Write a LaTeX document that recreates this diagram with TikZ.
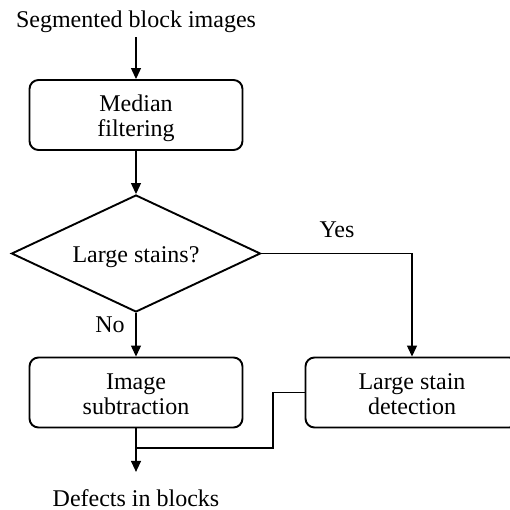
\documentclass[tikz,border=0pt]{standalone}
\usepackage{fontspec}
\setmainfont{Liberation Serif}
\usetikzlibrary{shapes.geometric,arrows.meta}
\newcommand{\boxtxt}[2][8pt]{\raisebox{0pt}[\dimexpr\height+#1\relax][\depth]{\begin{tabular}{@{}c@{}}#2\end{tabular}}}
\begin{document}
\begin{tikzpicture}[x=1pt,y=-1pt,
  every node/.style={font=\fontsize{24}{25}\selectfont},
  procbox/.style={draw,line width=1.9pt,rounded corners=9pt,minimum width=213pt,minimum height=70pt,align=center,inner sep=0pt},
  decision/.style={draw,line width=1.9pt,diamond,shape aspect=2.1,minimum width=249pt,minimum height=117pt,inner sep=0pt},
  plain/.style={inner sep=0pt},
  conn/.style={line width=1.2pt},
  arr/.style={conn,-{Triangle[length=11pt,width=10pt]}}]
\clip (0,0) rectangle (510,510);
\useasboundingbox (0,0) rectangle (510,510);
\node[plain,anchor=base] (in) at (136,28) {Segmented block images};
\node[procbox] (med) at (136,115) {\boxtxt{Median\\filtering}};
\node[decision] (dia) at (136,253.5) {\boxtxt[8pt]{Large stains?}};
\node[procbox] (sub) at (136,392.5) {\boxtxt{Image\\subtraction}};
\node[procbox] (lsd) at (412,392.5) {\boxtxt{Large stain\\detection}};
\node[plain,anchor=base] (out) at (136,506) {Defects in blocks};
\node[plain] (yes) at (337,230) {Yes};
\node[plain] (no) at (110,325) {No};
\coordinate (bend) at (273,448);
\coordinate (merge) at (136,448);
\draw[arr] ([yshift=-4pt]in.south) -- (med.north);
\draw[arr] (med.south) -- (dia.north);
\draw[arr] (dia.east) -| (lsd.north);
\draw[arr] (dia.south) -- (sub.north);
\draw[arr] (sub.south) -- ([yshift=17pt]out.north);
\draw[conn] (lsd.west) -| (bend) -- (merge);
\end{tikzpicture}
\end{document}
